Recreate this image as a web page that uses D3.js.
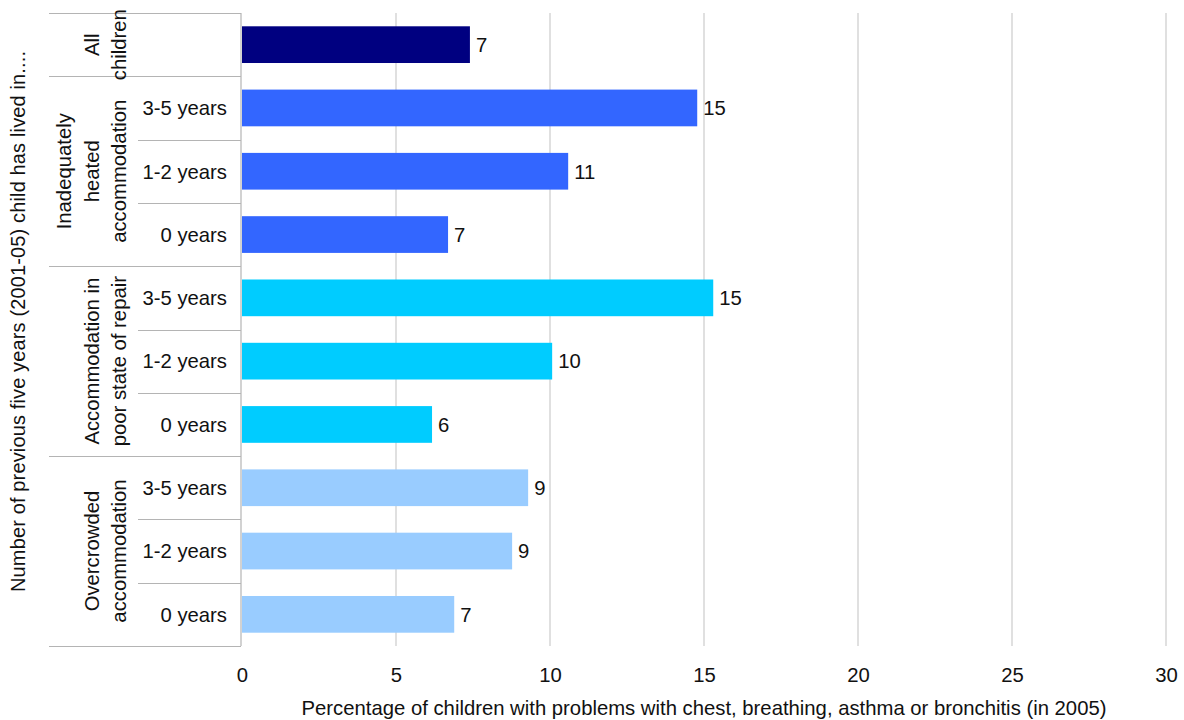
<!DOCTYPE html>
<html>
<head>
<meta charset="utf-8">
<script src="https://cdn.jsdelivr.net/npm/d3@7"></script>
<style>
  html, body { margin: 0; padding: 0; background: #fff; }
  svg { display: block; font-family: "Liberation Sans", Arial, sans-serif; }
</style>
</head>
<body>
<svg id="chart" width="1184" height="720"></svg>
<script>
// ---- data ----
const groupNames = ["All children", "Inadequately heated accommodation", "Accommodation in poor state of repair", "Overcrowded accommodation"];
const groupLines = [["All", "children"], ["Inadequately", "heated", "accommodation"], ["Accommodation in", "poor state of repair"], ["Overcrowded", "accommodation"]];
const rowGroup = [0, 1, 1, 1, 2, 2, 2, 3, 3, 3];
const rowLabels = ["", "3-5 years", "1-2 years", "0 years", "3-5 years", "1-2 years", "0 years", "3-5 years", "1-2 years", "0 years"];
const values = [7.4, 14.78, 10.59, 6.69, 15.3, 10.07, 6.17, 9.29, 8.77, 6.89];
const groupColors = ["#000080", "#3366FF", "#00CCFF", "#99CCFF"];
const xTicks = [0, 5, 10, 15, 20, 25, 30];
const xTitle = "Percentage of children with problems with chest, breathing, asthma or bronchitis (in 2005)";
const yTitle = "Number of previous five years (2001-05) child has lived in....";

(function () {
// ---- layout ----
const svg = d3.select("#chart");
const pLeft = 242, pRight = 1166, pTop = 13, pBottom = 646;
const fs = 20.3;
const txt = "#111";

const x = d3.scaleLinear().domain([0, 30]).range([pLeft, pRight]);
const y = d3.scaleBand().domain(d3.range(values.length)).range([pTop, pBottom]).paddingInner(0.42).paddingOuter(0.21);
const step = y.step();
const rowTop = i => y(i) - step * y.paddingInner() / 2;

const lineColor = "#b4b4b4";

// gridlines
svg.append("g").selectAll("line").data(xTicks.slice(1)).join("line")
  .attr("x1", d => x(d)).attr("x2", d => x(d))
  .attr("y1", pTop).attr("y2", pBottom)
  .attr("stroke", "#cccccc").attr("stroke-width", 1.2);

// table lines for category axis
const tbl = svg.append("g").attr("stroke", lineColor).attr("stroke-width", 1.2);
for (let i = 0; i <= values.length; i++) {
  const yy = Math.round(i < values.length ? rowTop(i) : rowTop(values.length - 1) + step) + 0.5;
  const isGroupEdge = i === 0 || i === values.length || rowGroup[i] !== rowGroup[i - 1];
  tbl.append("line").attr("x1", isGroupEdge ? 49 : 138).attr("x2", pLeft - 1)
    .attr("y1", yy).attr("y2", yy);
}
tbl.append("line").attr("x1", pLeft - 1).attr("x2", pLeft - 1).attr("y1", pTop).attr("y2", pBottom);

// bars
svg.append("g").selectAll("rect").data(values).join("rect")
  .attr("x", x(0))
  .attr("y", (d, i) => y(i))
  .attr("width", d => x(d) - x(0))
  .attr("height", y.bandwidth())
  .attr("fill", (d, i) => groupColors[rowGroup[i]]);

// value labels
svg.append("g").selectAll("text").data(values).join("text")
  .attr("x", d => x(d) + 6)
  .attr("y", (d, i) => y(i) + y.bandwidth() / 2)
  .attr("dy", "0.36em")
  .attr("font-size", fs).attr("fill", txt)
  .text(d => d3.format(".0f")(d));

// row labels
svg.append("g").selectAll("text").data(rowLabels).join("text")
  .attr("x", 227)
  .attr("y", (d, i) => y(i) + y.bandwidth() / 2)
  .attr("dy", "0.36em")
  .attr("text-anchor", "end")
  .attr("font-size", fs).attr("fill", txt)
  .text(d => d);

// group labels (rotated)
groupNames.forEach((g, gi) => {
  const rows = d3.range(values.length).filter(i => rowGroup[i] === gi);
  const y0 = rowTop(rows[0]);
  const y1 = rowTop(rows[rows.length - 1]) + step;
  const cy = (y0 + y1) / 2;
  const lines = groupLines[gi];
  const t = svg.append("text")
    .attr("transform", `translate(0,${cy}) rotate(-90)`)
    .attr("text-anchor", "middle")
    .attr("font-size", fs).attr("fill", txt);
  lines.forEach((ln, li) => {
    const base = 126 - (lines.length - 1 - li) * 27.5;
    t.append("tspan").attr("x", 0).attr("y", base).text(ln);
  });
});

// x axis
const xAxis = svg.append("g").attr("transform", `translate(0,${pBottom})`)
  .call(d3.axisBottom(x).tickValues(xTicks).tickSize(0));
xAxis.select(".domain").remove();
xAxis.selectAll("text").attr("font-size", fs).attr("fill", txt)
  .attr("font-family", "Liberation Sans, Arial, sans-serif")
  .attr("y", 682 - pBottom).attr("dy", 0);

// axis titles
svg.append("text")
  .attr("x", (pLeft + pRight) / 2).attr("y", 715)
  .attr("text-anchor", "middle").attr("font-size", fs).attr("fill", txt)
  .text(xTitle);

svg.append("text")
  .attr("transform", "translate(25,321.5) rotate(-90)")
  .attr("text-anchor", "middle").attr("font-size", 20).attr("fill", txt)
  .attr("textLength", 541).attr("lengthAdjust", "spacing")
  .text(yTitle);
})();
</script>
</body>
</html>
